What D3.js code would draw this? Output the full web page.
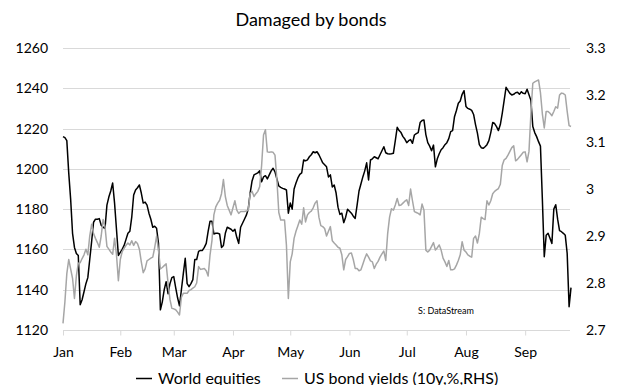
<!DOCTYPE html>
<html>
<head>
<meta charset="utf-8">
<script src="https://cdn.jsdelivr.net/npm/d3@7"></script>
<style>
  body { margin: 0; background: #fff; }
  text { font-family: Lato, "Open Sans", sans-serif; fill: #000; }
</style>
</head>
<body>
<svg id="chart" width="618" height="385"></svg>
<script>
// Chart content
const chartTitle = "Damaged by bonds";
const sourceNote = "S: DataStream";
const seriesNames = ["World equities", "US bond yields (10y,%,RHS)"];
const monthLabels = ["Jan", "Feb", "Mar", "Apr", "May", "Jun", "Jul", "Aug", "Sep"];
const equityTicks = [1120, 1140, 1160, 1180, 1200, 1220, 1240, 1260];
const yieldTicks = [2.7, 2.8, 2.9, 3, 3.1, 3.2, 3.3];

// Daily observations, first one on startDate
const startDate = "2018-01-02";
const endDate = "2018-09-25";

const equities = [
  1216, 1215.5, 1214, 1198, 1185, 1168, 1161, 1158, 1157, 1132.5,
  1135, 1139, 1143, 1146, 1155, 1164, 1173.5, 1175, 1175, 1175.3,
  1172, 1171, 1170.5, 1182, 1186, 1189, 1193, 1183, 1170, 1157,
  1158.5, 1160, 1162, 1165, 1168, 1169, 1176, 1187, 1189.5, 1190.6,
  1192, 1188, 1183, 1183.5, 1182, 1178, 1175, 1171, 1171.5, 1170.5,
  1163, 1130, 1134, 1140, 1144, 1138, 1143, 1146, 1146.5, 1141,
  1136, 1132, 1140, 1148, 1155.6, 1143, 1141.5, 1143, 1145, 1155,
  1155, 1159, 1159.5, 1159.5, 1161, 1163, 1169, 1174, 1174, 1167.7,
  1168, 1168, 1167.7, 1161, 1162, 1168, 1171, 1170.5, 1170, 1169,
  1170, 1166, 1163, 1171, 1173, 1175, 1177, 1180, 1188, 1194,
  1197, 1197.5, 1198, 1199, 1193.6, 1196, 1196.6, 1195, 1197, 1199,
  1200.3, 1198.5, 1195, 1191.5, 1190.8, 1190.3, 1190, 1189.5, 1178, 1183,
  1180, 1190, 1193, 1195.5, 1197.3, 1198, 1204.4, 1204, 1204.5, 1206,
  1207, 1208.5, 1208, 1208.5, 1207, 1205, 1203, 1202, 1201, 1196,
  1197, 1191, 1192, 1188, 1181, 1177.4, 1178, 1173.3, 1176, 1180,
  1179, 1178, 1176.5, 1175.4, 1182, 1189, 1192.5, 1196, 1199, 1203,
  1194.5, 1204.4, 1205, 1206, 1205.5, 1205, 1207, 1209, 1211, 1208,
  1207.5, 1207.4, 1207.5, 1207.7, 1214, 1220.6, 1219, 1218, 1216, 1214.8,
  1213, 1214, 1214.5, 1212.7, 1216.8, 1217.5, 1218, 1223, 1224, 1224.3,
  1217, 1213, 1211.3, 1209, 1211.8, 1201, 1205, 1207.5, 1209.5, 1210.5,
  1212, 1213, 1215, 1218.5, 1219, 1225.9, 1229, 1232.6, 1233.7, 1237,
  1238.8, 1231, 1230, 1229.6, 1229, 1227, 1222, 1217.7, 1212, 1210.5,
  1210.2, 1211, 1212, 1214, 1218, 1223, 1222.5, 1221, 1219, 1222,
  1227.6, 1234, 1240.5, 1239, 1237.5, 1236.7, 1237, 1237.8, 1238, 1237,
  1238.3, 1237.5, 1237.3, 1239.5, 1236.8, 1234, 1221, 1218, 1216, 1213.5,
  1211.3, 1185, 1156.4, 1167, 1168, 1165.5, 1163, 1180, 1182.2, 1175,
  1169.3, 1168.8, 1168, 1167, 1158, 1131.6, 1141
];

const bondYields = [
  2.714, 2.76, 2.82, 2.85, 2.83, 2.81, 2.767, 2.815, 2.842, 2.843,
  2.852, 2.86, 2.872, 2.86, 2.90, 2.925, 2.905, 2.895, 2.886, 2.876,
  2.90, 2.935, 2.92, 2.878, 2.872, 2.866, 2.861, 2.895, 2.86, 2.805,
  2.85, 2.867, 2.874, 2.88, 2.885, 2.881, 2.89, 2.88, 2.888, 2.884,
  2.872, 2.845, 2.822, 2.83, 2.847, 2.85, 2.853, 2.855, 2.875, 2.90,
  2.87, 2.83, 2.833, 2.837, 2.841, 2.80, 2.765, 2.746, 2.745, 2.743,
  2.738, 2.732, 2.77, 2.778, 2.778, 2.778, 2.784, 2.786, 2.789, 2.792,
  2.80, 2.835, 2.829, 2.83, 2.831, 2.826, 2.815, 2.86, 2.89, 2.945,
  2.962, 2.97, 2.976, 2.99, 3.02, 2.984, 2.965, 2.955, 2.945, 2.96,
  2.975, 2.955, 2.948, 2.952, 2.952, 2.952, 2.953, 2.955, 2.99, 2.995,
  2.984, 2.99, 2.995, 3.005, 3.05, 3.115, 3.126, 3.079, 3.078, 3.079,
  3.078, 3.072, 3.02, 2.95, 2.934, 2.934, 2.934, 2.88, 2.767, 2.845,
  2.862, 2.895, 2.91, 2.922, 2.934, 2.925, 2.96, 2.93, 2.945, 2.95,
  2.953, 2.96, 2.97, 2.975, 2.94, 2.922, 2.92, 2.916, 2.90, 2.91,
  2.92, 2.89, 2.885, 2.881, 2.876, 2.874, 2.86, 2.828, 2.85, 2.856,
  2.863, 2.864, 2.85, 2.831, 2.831, 2.826, 2.828, 2.84, 2.852, 2.862,
  2.855, 2.847, 2.845, 2.831, 2.84, 2.846, 2.855, 2.862, 2.868, 2.848,
  2.905, 2.94, 2.958, 2.955, 2.966, 2.98, 2.965, 2.966, 2.97, 2.974,
  2.977, 2.965, 3.00, 2.975, 2.952, 2.95, 2.948, 2.945, 2.968, 2.955,
  2.87, 2.866, 2.87, 2.878, 2.886, 2.87, 2.875, 2.881, 2.87, 2.853,
  2.845, 2.835, 2.848, 2.828, 2.828, 2.83, 2.838, 2.848, 2.86, 2.888,
  2.87, 2.866, 2.86, 2.857, 2.855, 2.895, 2.90, 2.885, 2.905, 2.94,
  2.937, 2.935, 2.975, 2.966, 2.975, 2.99, 2.995, 2.998, 3.001, 3.01,
  3.05, 3.062, 3.065, 3.072, 3.08, 3.088, 3.092, 3.06, 3.063, 3.068,
  3.073, 3.078, 3.079, 3.058, 3.08, 3.16, 3.225, 3.228, 3.23, 3.232,
  3.205, 3.16, 3.13, 3.165, 3.165, 3.161, 3.156, 3.165, 3.175, 3.172,
  3.20, 3.204, 3.203, 3.2, 3.165, 3.135, 3.133
];

// Layout
const width = 618, height = 385;
const margin = { top: 48, right: 48, bottom: 55, left: 63 };
const plotRight = width - margin.right;
const plotBottom = height - margin.bottom;
const labelFont = "Lato, 'Open Sans', sans-serif";

const parse = d3.timeParse("%Y-%m-%d");
const t0 = parse(startDate), t1 = parse(endDate);
const dateAt = i => d3.timeDay.offset(t0, i);

const x = d3.scaleTime().domain([t0, t1]).range([margin.left, plotRight + 1]);
const yLeft = d3.scaleLinear().domain([equityTicks[0], equityTicks[equityTicks.length - 1]]).range([plotBottom, margin.top]);
const yRight = d3.scaleLinear().domain([yieldTicks[0], yieldTicks[yieldTicks.length - 1]]).range([plotBottom, margin.top]);

const svg = d3.select("#chart");

// Title
svg.append("text")
  .attr("x", 311).attr("y", 26)
  .attr("text-anchor", "middle")
  .style("font-size", "18px")
  .text(chartTitle);

// Horizontal gridlines
svg.append("g")
  .selectAll("line")
  .data(equityTicks)
  .join("line")
  .attr("x1", margin.left).attr("x2", plotRight)
  .attr("y1", d => Math.round(yLeft(d)) + 0.5)
  .attr("y2", d => Math.round(yLeft(d)) + 0.5)
  .attr("stroke", "#d9d9d9")
  .attr("stroke-width", 1);

// Month ticks: axis start, then the first of each month
const monthTicks = [t0].concat(d3.timeMonth.range(d3.timeMonth.ceil(d3.timeDay.offset(t0, 1)), t1));
const xAxis = d3.axisBottom(x)
  .tickValues(monthTicks)
  .tickFormat((d, i) => monthLabels[i])
  .tickSize(5)
  .tickSizeOuter(0);
const gx = svg.append("g")
  .attr("transform", `translate(0,${Math.round(plotBottom) + 0.5})`)
  .call(xAxis);
gx.select(".domain").attr("stroke", "#d9d9d9").attr("d", `M${margin.left},0H${plotRight}`);
gx.selectAll(".tick line").attr("stroke", "#d9d9d9");
gx.selectAll(".tick text")
  .attr("y", 17)
  .style("font-size", "14px")
  .style("font-family", labelFont)
  .attr("fill", "#000");

// Left axis (equities)
const gl = svg.append("g")
  .attr("transform", `translate(${margin.left},0)`)
  .call(d3.axisLeft(yLeft).tickValues(equityTicks).tickSize(0).tickPadding(15).tickFormat(d3.format("d")));
gl.select(".domain").remove();
gl.selectAll(".tick text")
  .style("font-size", "14px")
  .style("font-family", labelFont)
  .attr("fill", "#000");

// Right axis (bond yields)
const gr = svg.append("g")
  .attr("transform", `translate(${plotRight},0)`)
  .call(d3.axisRight(yRight).tickValues(yieldTicks).tickSize(0).tickPadding(16).tickFormat(d3.format("")));
gr.select(".domain").remove();
gr.selectAll(".tick text")
  .style("font-size", "14px")
  .style("font-family", labelFont)
  .attr("fill", "#000");

// Series lines
const equityLine = d3.line()
  .x((d, i) => x(dateAt(i)))
  .y(d => yLeft(d));
const yieldLine = d3.line()
  .x((d, i) => x(dateAt(i)))
  .y(d => yRight(d));

svg.append("path")
  .datum(equities)
  .attr("fill", "none")
  .attr("stroke", "#000")
  .attr("stroke-width", 1.5)
  .attr("stroke-linejoin", "round")
  .attr("d", equityLine);

svg.append("path")
  .datum(bondYields)
  .attr("fill", "none")
  .attr("stroke", "#a6a6a6")
  .attr("stroke-width", 1.5)
  .attr("stroke-linejoin", "round")
  .attr("d", yieldLine);

// Source note
svg.append("text")
  .attr("x", 418).attr("y", 314)
  .style("font-size", "9px")
  .text(sourceNote);

// Legend
const legend = svg.append("g").attr("transform", "translate(0,378)");
const legendItems = [
  { name: seriesNames[0], color: "#000", x: 136 },
  { name: seriesNames[1], color: "#a6a6a6", x: 282 }
];
legendItems.forEach(item => {
  legend.append("line")
    .attr("x1", item.x).attr("x2", item.x + 16)
    .attr("y1", 0.5).attr("y2", 0.5)
    .attr("stroke", item.color)
    .attr("stroke-width", 1.5);
  legend.append("text")
    .attr("x", item.x + 22).attr("y", 5.5)
    .style("font-size", "16px")
    .text(item.name);
});
</script>
</body>
</html>
